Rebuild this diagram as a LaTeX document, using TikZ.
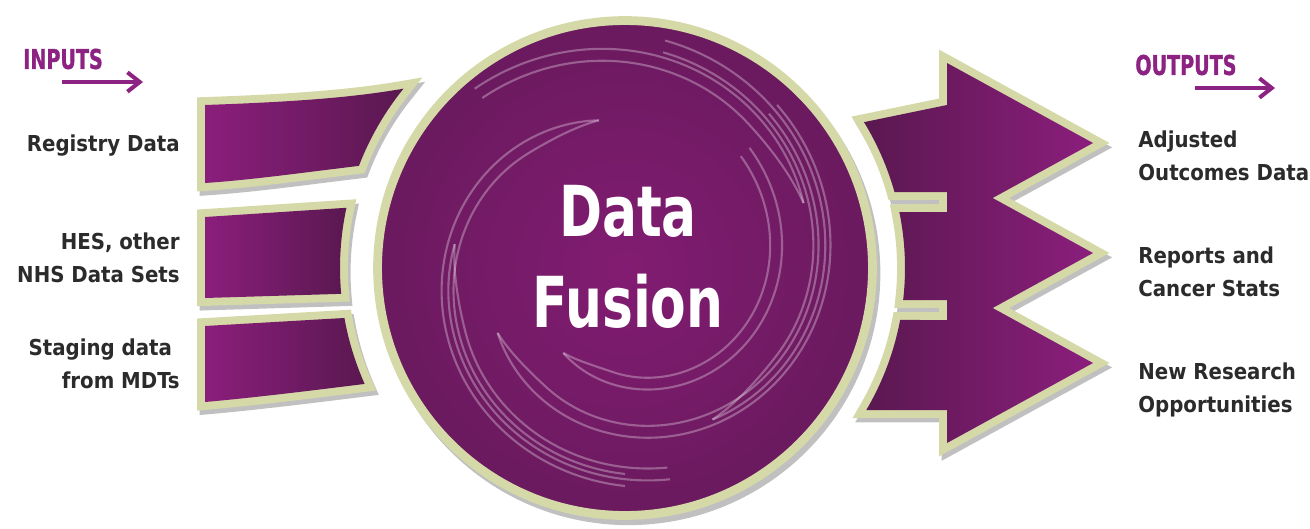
\documentclass[tikz,border=0pt]{standalone}
\usepackage{fontspec}
\newfontfamily\condfont{DejaVu Sans Condensed}
\newfontfamily\narrowfont{DejaVu Sans Condensed}[FakeStretch=0.82]
\newfontfamily\heavyfont{DejaVu Sans Condensed}[FakeStretch=0.78, FakeBold=1.2]
\usetikzlibrary{calc,positioning,arrows.meta}

\definecolor{rim}{RGB}{213,217,168}
\definecolor{plum}{RGB}{139,30,124}
\definecolor{plumdark}{RGB}{90,24,80}
\definecolor{plummid}{RGB}{106,26,94}
\definecolor{plumcore}{RGB}{130,28,114}
\definecolor{ink}{RGB}{43,43,43}
\definecolor{headplum}{RGB}{140,35,130}
\definecolor{shadowgray}{RGB}{192,192,192}

\pgfdeclareradialshading{fusionglow}{\pgfpoint{0bp}{0bp}}{color(0bp)=(plumcore); color(25bp)=(plummid); color(50bp)=(plumdark)}

% outgoing arrow: tail angles, shaft top/bottom, tip height
\newcommand{\outshape}[5]{([shift={(hub)}]#1:280) -- (947,#3) -- (947,#5-80) -- (1093,#5) -- (947,#5+80) -- (947,#4) -- ([shift={(hub)}]#2:280) arc[start angle=#2, end angle=#1, radius=280] -- cycle}

\tikzset{
  dropshade/.style={preaction={fill=shadowgray, draw=shadowgray, line width=9pt, transform canvas={xshift=1.5pt,yshift=-2.5pt}}},
  rimmed/.style={preaction={draw=rim, line width=9pt}},
  inbar/.style={dropshade, rimmed, left color=plum, right color=plumdark},
  outbar/.style={dropshade, rimmed, left color=plumdark, right color=plum},
  fusionball/.style={circle, minimum size=9.9cm, inner sep=0pt, draw=rim, line width=5pt, shading=fusionglow,
    preaction={fill=shadowgray, draw=shadowgray, line width=5pt, transform canvas={xshift=2pt,yshift=-3pt}}},
  swirl/.style={draw=white, opacity=.3, line width=1.2pt},
  inlabel/.style={font=\condfont\bfseries\fontsize{12.5}{18.7}\selectfont, text=ink, align=right, anchor=east, inner sep=0pt},
  outlabel/.style={font=\condfont\bfseries\fontsize{12.5}{18.7}\selectfont, text=ink, align=left, anchor=west, inner sep=0pt},
  headlabel/.style={font=\heavyfont\bfseries\fontsize{15.5}{18}\selectfont, text=headplum, anchor=west, inner sep=0pt},
  headarrow/.style={draw=headplum, line width=2.3pt, -{Straight Barb[length=7pt,width=11pt]}}
}

\begin{document}
\begin{tikzpicture}[x=0.02cm,y=-0.02cm]
\useasboundingbox (0,0) rectangle (1310,528);
\coordinate (hub) at (625,268);

% input bars
\path[inbar] (205,105) .. controls (290,102) and (350,98) .. ([shift={(hub)}]219:285)
  arc[start angle=219, end angle=201, radius=285] .. controls (300,173) and (250,180) .. (205,183) -- cycle;
\path[inbar] (205,217) -- ([shift={(hub)}]192.2:285)
  arc[start angle=192.2, end angle=174.8, radius=285] -- (205,298) -- cycle;
\path[inbar] (205,326) -- ([shift={(hub)}]169.9:285)
  arc[start angle=169.9, end angle=156, radius=285] .. controls (300,392) and (250,398) .. (205,402) -- cycle;

% output arrows
\path[outbar] \outshape{-31.4}{-15.7}{105}{192}{143} \outshape{-11.5}{6.6}{212}{300}{253} \outshape{10.7}{30.5}{320}{410}{363};

% fusion disc and swirl
\node[fusionball] (fusion) at (hub) {};
\begin{scope}
\clip (hub) circle[radius=238];
\foreach \a/\r/\len in {100/150/170, 172/172/110, 207/143/200, 234/105/170, 300/175/140, 20/190/110}{
  \draw[swirl] plot[domain=0:\len, samples=60, smooth, variable=\t]
    ({625+(\r+0.4*\t)*cos(\a+\t)}, {268-(\r+0.4*\t)*sin(\a+\t)});
  \draw[swirl] plot[domain=0:\len, samples=60, smooth, variable=\t]
    ({625+(\r+0.4*\t-12*sin(min(3*\t,90)))*cos(\a+\t)}, {268-(\r+0.4*\t-12*sin(min(3*\t,90)))*sin(\a+\t)});
}
\end{scope}
\node[font=\narrowfont\bfseries\fontsize{40}{52}\selectfont, text=white, align=center] (fusiontext) at (628,257) {Data\\Fusion};

% headings
\node[headlabel] (inputs) at (23,59) {INPUTS};
\node[headlabel] (outputs) at (1135,65) {OUTPUTS};
\coordinate (intail) at (62,82);
\coordinate (inhead) at (143,82);
\coordinate (outtail) at (1195,88);
\coordinate (outhead) at (1275,88);
\draw[headarrow] (intail) -- (inhead);
\draw[headarrow] (outtail) -- (outhead);

% labels
\node[inlabel] (registry) at (180,146) {Registry Data};
\node[inlabel] (hes) at (180,258) {HES, other\\NHS Data Sets};
\node[inlabel] (staging) at (180,364) {Staging data\hspace*{.35em}\\from MDTs};
\node[outlabel] (adjusted) at (1138,155.5) {Adjusted\\Outcomes Data};
\node[outlabel] (reports) at (1138,271.5) {Reports and\\Cancer Stats};
\node[outlabel] (research) at (1138,390) {New Research\\Opportunities};
\end{tikzpicture}
\end{document}
